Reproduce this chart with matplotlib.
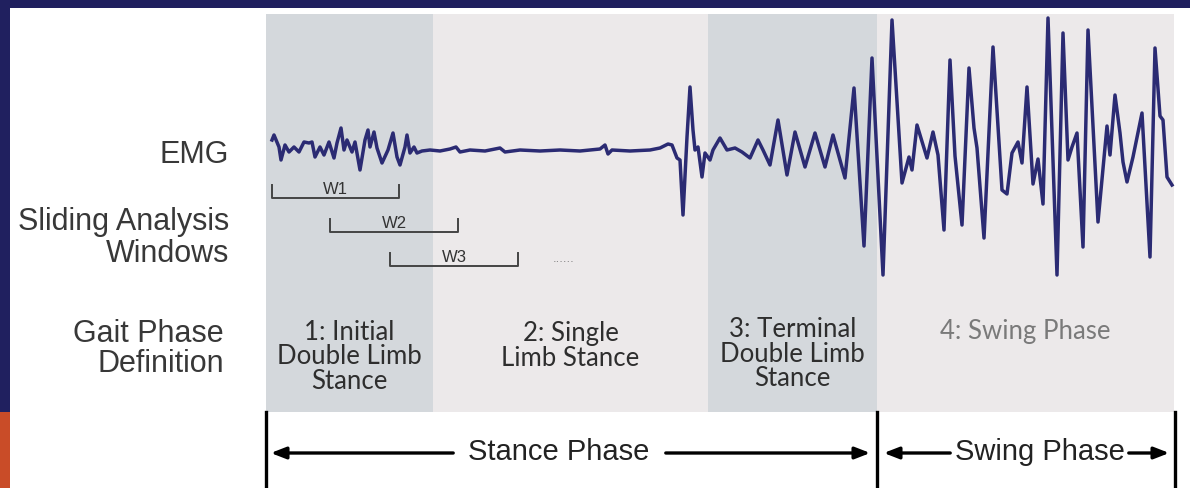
import numpy as np
import matplotlib.pyplot as plt
from matplotlib.patches import Rectangle

# gait phase boundaries (px along the cycle) and labels
phase_edges = [266, 433, 708, 877, 1174]
phase_labels = ["1: Initial\nDouble Limb\nStance",
                "2: Single\nLimb Stance",
                "3: Terminal\nDouble Limb\nStance",
                "4: Swing Phase"]
phase_label_y = [357, 346, 354, 331]

# sliding windows: start, end, bracket level
win_names = ["W1", "W2", "W3"]
win_start = [272, 330, 390]
win_end = [399, 458, 518]
win_level = [198, 232, 266]

# EMG trace (x, y in px, y downwards)
emg_x = [272, 274, 279, 281, 285, 289, 294, 299, 304, 309, 312, 315, 320, 324, 329,
         334, 337, 341, 344, 347, 352, 355, 360, 365, 368, 370, 374, 377, 382, 388,
         393, 397, 400, 405, 407, 410, 414, 417, 422, 430, 440, 450, 456, 460, 470,
         485, 500, 505, 520, 540, 560, 580, 600, 605, 608, 612, 630, 650, 660, 668,
         672, 677, 680, 683, 687, 690, 693, 695, 698, 702, 705, 710, 713, 720, 727,
         735, 742, 750, 758, 763, 770, 778, 787, 795, 805, 815, 825, 833, 845, 854,
         864, 872, 883, 892, 902, 909, 912, 917, 927, 933, 938, 944, 950, 955, 962,
         969, 974, 977, 984, 993, 1002, 1007, 1012, 1018, 1022, 1027, 1033, 1038, 1043, 1048,
         1057, 1063, 1068, 1072, 1077, 1083, 1088, 1098, 1107, 1110, 1115, 1120, 1123, 1127, 1133,
         1142, 1150, 1155, 1160, 1163, 1167, 1172]
emg_y = [140, 135, 147, 160, 145, 152, 147, 152, 142, 143, 142, 157, 147, 155, 142,
         158, 143, 128, 150, 140, 152, 142, 170, 140, 130, 147, 132, 148, 163, 150,
         133, 157, 165, 147, 135, 153, 147, 153, 151, 150, 151, 149, 147, 152, 150,
         151, 148, 152, 150, 151, 150, 151, 149, 145, 154, 150, 151, 150, 148, 144,
         145, 158, 160, 215, 137, 87, 130, 150, 147, 177, 153, 160, 150, 138, 150,
         148, 152, 158, 140, 150, 165, 120, 175, 132, 167, 133, 167, 135, 178, 88,
         246, 58, 275, 20, 183, 157, 170, 125, 158, 132, 155, 230, 60, 156, 225,
         68, 128, 148, 238, 47, 190, 194, 153, 142, 163, 87, 184, 159, 204, 18,
         275, 33, 160, 147, 133, 247, 30, 222, 126, 155, 95, 133, 162, 182, 157,
         113, 257, 48, 116, 120, 177, 185]

# bottom: stance / swing split
cycle_marks = [266, 877, 1175]
cycle_names = ["Stance Phase", "Swing Phase"]

shade = ["#d4d8dc", "#ece9ea", "#d4d8dc", "#ece9ea"]
navy = "#20205f"
dark = "#383838"

fig = plt.figure(figsize=(11.9, 4.88), dpi=100)
ax = fig.add_axes([0, 0, 1, 1])
ax.set_xlim(0, 1190)
ax.set_ylim(488, 0)
ax.axis("off")

# frame of the slide
ax.add_patch(Rectangle((0, 0), 1190, 8, color=navy, lw=0))
ax.add_patch(Rectangle((0, 0), 10, 412, color=navy, lw=0))
ax.add_patch(Rectangle((0, 412), 10, 76, color="#c94c28", lw=0))

# phase shading + labels
for i in range(4):
    x0, x1 = phase_edges[i], phase_edges[i + 1]
    ax.add_patch(Rectangle((x0, 14), x1 - x0, 398, color=shade[i], lw=0, zorder=0))
    col = "#7a7a7a" if i == 3 else "#2e2e2e"
    ax.text((x0 + x1) / 2, phase_label_y[i], phase_labels[i], ha="center", va="center",
            fontsize=18.5, family="Lato", color=col, linespacing=0.98)

ax.plot(emg_x, emg_y, color="#2b2b73", lw=2.5, solid_joinstyle="round")

# windows
for n, a, b, lev in zip(win_names, win_start, win_end, win_level):
    ax.plot([a, a, b, b], [lev - 13, lev, lev, lev - 13], color="#444444", lw=1.4)
    ax.text((a + b) / 2, lev - 9, n, ha="center", va="center", fontsize=12,
            family="Liberation Sans", color="#333333")
ax.text(564, 259, "......", ha="center", va="center", fontsize=8, color="#777777")

# row labels
lab = dict(ha="right", va="center", fontsize=22, family="Liberation Sans", color=dark)
ax.text(229, 155, "EMG", **lab)
ax.text(229, 238, "Sliding Analysis\nWindows", linespacing=1.1, **lab)
ax.text(224, 349, "Gait Phase\nDefinition", linespacing=1.0, **lab)

# stance / swing arrows
for x in cycle_marks:
    ax.plot([x, x], [412, 488], color="black", lw=2.4)
arr = dict(arrowstyle="-|>,head_length=0.9,head_width=0.35", color="black", lw=2.4)
ax.annotate("", xy=(cycle_marks[0] + 2, 453), xytext=(456, 453), arrowprops=arr)
ax.annotate("", xy=(cycle_marks[1] - 4, 453), xytext=(663, 453), arrowprops=arr)
ax.annotate("", xy=(cycle_marks[1] + 4, 453), xytext=(953, 453), arrowprops=arr)
ax.annotate("", xy=(cycle_marks[2] - 3, 453), xytext=(1126, 453), arrowprops=arr)
ax.text(559, 452, cycle_names[0], ha="center", va="center", fontsize=21,
        family="Liberation Sans", color="#222222")
ax.text(1040, 452, cycle_names[1], ha="center", va="center", fontsize=21,
        family="Liberation Sans", color="#222222")

fig.savefig("out.png", dpi=100)
